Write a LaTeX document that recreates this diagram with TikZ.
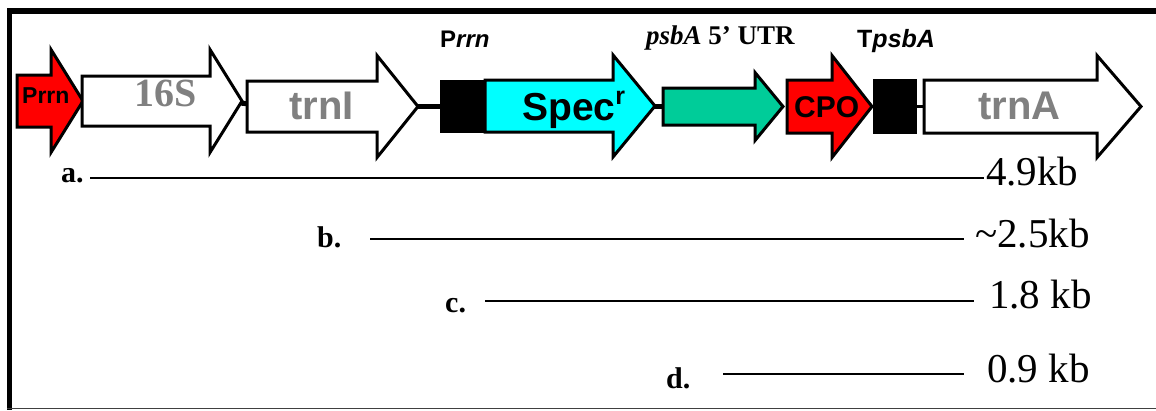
\documentclass[tikz,border=0pt]{standalone}
\usepackage{fontspec}
\setmainfont{Liberation Serif}
\newfontfamily\arialf{Liberation Sans}
\definecolor{specc}{RGB}{0,255,255}
\definecolor{utrc}{RGB}{0,204,153}
\definecolor{gtxt}{RGB}{128,128,128}
\definecolor{redc}{RGB}{255,0,0}
\newcommand\fs[1]{\fontsize{#1}{#1}\selectfont}
\newcommand\genearrow[7]{%
  \draw[gene, fill=#1] (#2,#5-#6) -- (#3,#5-#6) -- (#3,#5-#7) -- (#4,#5) -- (#3,#5+#7) -- (#3,#5+#6) -- (#2,#5+#6) -- cycle;}
\tikzset{
  gene/.style={draw=black, line width=3pt, line join=miter},
  lbl/.style={inner sep=0pt, anchor=base west},
  link/.style={draw=black, line width=5pt},
  band/.style={draw=black, line width=2pt},
}
\begin{document}
\begin{tikzpicture}[x=1pt,y=-1pt]
\useasboundingbox (0,0) rectangle (1156,410);
% frame
\draw[line width=6pt] (7,11) -- (1156,11);
\draw[line width=5pt] (9.5,8) -- (9.5,410);
\draw[line width=1.5pt, draw=black!75] (7,408.5) -- (1156,408.5);
% connectors
\coordinate (c1a) at (240,103); \coordinate (c1b) at (249,104);
\coordinate (c2a) at (416,106); \coordinate (c2b) at (442,106);
\coordinate (c3a) at (653,106); \coordinate (c3b) at (665,106);
\coordinate (c4a) at (914,106); \coordinate (c4b) at (926,106);
\draw[link] (c1a) -- (c1b);
\draw[link] (c2a) -- (c2b);
\draw[link] (c3a) -- (c3b);
\draw[draw=black, line width=3pt] (c4a) -- (c4b);
% genes
\genearrow{redc}{17}{51}{83}{101}{26}{51.5}
\genearrow{white}{82}{210}{242}{101}{25}{51.5}
\genearrow{white}{247}{377}{418}{106.5}{25.5}{51}
\genearrow{specc}{485}{613}{655}{106}{26}{51}
\genearrow{utrc}{663}{755}{783}{106.5}{18.5}{34}
\genearrow{redc}{787}{832}{872}{106.5}{26.5}{51}
\genearrow{white}{924}{1097}{1141}{106.5}{26.5}{51}
\draw[fill=black, draw=black, line width=1pt] (440,80) rectangle (485,132);
\draw[fill=black, draw=black, line width=1pt] (873,79) rectangle (916,133);
% gene labels
\node[lbl] (tprrn) at (22,103) {\arialf\bfseries\fs{23}Prrn};
\node[lbl, text=gtxt] (t16s) at (134,106) {\bfseries\fs{40}16S};
\node[lbl, text=gtxt] (ttrni) at (289,119) {\arialf\bfseries\fs{40}trnI};
\node[lbl] (tspec) at (522,120) {\arialf\bfseries\fs{39}Spec\raisebox{0.4em}{\fs{25}r}};
\node[lbl] (tcpo) at (794,117) {\arialf\bfseries\fs{30}CPO};
\node[lbl, text=gtxt] (ttrna) at (978,119) {\arialf\bfseries\fs{40}trnA};
% top labels
\node[lbl] (pprrn) at (440,47) {\arialf\bfseries\fs{24}P\itshape rrn};
\node[lbl] (putr) at (646,44) {\bfseries\fs{27}\itshape psbA\upshape{} 5’ UTR};
\node[lbl] (tpsba) at (857,47) {\arialf\bfseries\fs{25}T\itshape psbA};
% bands
\node[lbl] (la) at (61,182) {\bfseries\fs{30}a.};
\node[lbl] (lb) at (317,247) {\bfseries\fs{30}b.};
\node[lbl] (lc) at (445,312) {\bfseries\fs{30}c.};
\node[lbl] (ld) at (666,388) {\bfseries\fs{30}d.};
\coordinate (a1) at (90,178); \coordinate (a2) at (984,178);
\coordinate (b1) at (370,239); \coordinate (b2) at (964,239);
\coordinate (c1) at (485,301); \coordinate (c2) at (974,301);
\coordinate (d1) at (723,374); \coordinate (d2) at (964,374);
\draw[band] (a1) -- (a2);
\draw[band] (b1) -- (b2);
\draw[band] (c1) -- (c2);
\draw[band] (d1) -- (d2);
\node[lbl] (sa) at (986,185) {\fs{41}4.9kb};
\node[lbl] (sb) at (975,247) {\fs{41}\textasciitilde 2.5kb};
\node[lbl] (sc) at (989,308) {\fs{41}1.8 kb};
\node[lbl] (sd) at (987,382) {\fs{41}0.9 kb};
\end{tikzpicture}
\end{document}
